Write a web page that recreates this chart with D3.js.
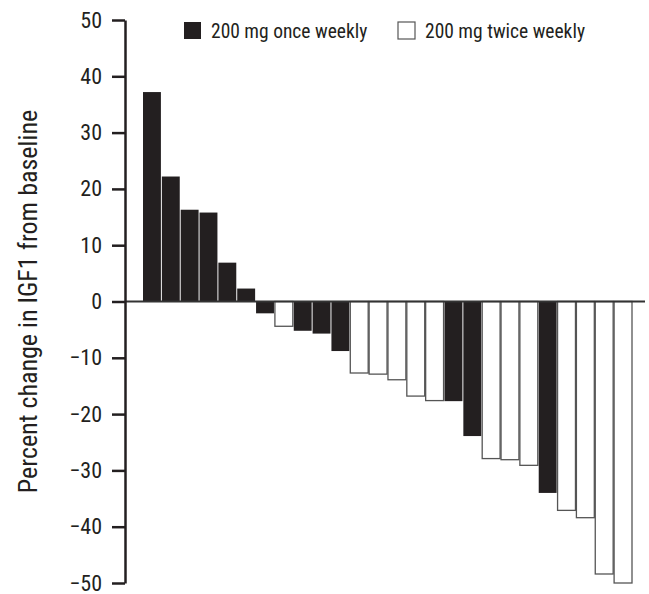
<!DOCTYPE html>
<html>
<head>
<meta charset="utf-8">
<script src="https://cdn.jsdelivr.net/npm/d3@7"></script>
<style>
  body { margin: 0; background: #fff; }
  svg text { font-family: "Liberation Sans Narrow", "Arial Narrow", "Roboto Condensed", sans-serif; fill: #231f20; }
</style>
</head>
<body>
<svg id="chart" width="649" height="594"></svg>
<script>
// Percent change in IGF1 per patient, sorted high to low
const patients = d3.range(1, 27).map(String);
const changes = [37.2, 22.2, 16.3, 15.8, 6.9, 2.3, -2.1, -4.4, -5.2, -5.7, -8.8, -12.7, -12.9, -13.9,
  -16.8, -17.6, -17.7, -23.9, -27.9, -28.1, -29.1, -34.0, -37.1, -38.4, -48.4, -50.0];
// 'once' = 200 mg once weekly, 'twice' = 200 mg twice weekly
const dosing = ['once', 'once', 'once', 'once', 'once', 'once', 'once', 'twice', 'once', 'once', 'once',
  'twice', 'twice', 'twice', 'twice', 'twice', 'once', 'once', 'twice', 'twice', 'twice', 'once',
  'twice', 'twice', 'twice', 'twice'];
const yTicks = [50, 40, 30, 20, 10, 0, -10, -20, -30, -40, -50];
const legendItems = [
  { key: 'once', label: '200 mg once weekly' },
  { key: 'twice', label: '200 mg twice weekly' }
];

const svg = d3.select('#chart');
const ink = '#231f20';

const y = d3.scaleLinear().domain([-50, 50]).range([583, 20]);
const x = d3.scaleBand().domain(patients).range([143, 632]).paddingInner(0.05);

// Bars
const data = patients.map((p, i) => ({ p, v: changes[i], dose: dosing[i] }));
svg.append('g').selectAll('rect').data(data).enter().append('rect')
  .attr('x', d => x(d.p))
  .attr('width', x.bandwidth())
  .attr('y', d => y(Math.max(0, d.v)))
  .attr('height', d => Math.abs(y(d.v) - y(0)))
  .attr('fill', d => d.dose === 'once' ? ink : '#fff')
  .attr('stroke', d => d.dose === 'once' ? 'none' : '#555')
  .attr('stroke-width', 1.3);

// Zero line
svg.append('line')
  .attr('x1', 125).attr('x2', 645)
  .attr('y1', y(0)).attr('y2', y(0))
  .attr('stroke', '#333').attr('stroke-width', 2);

// Y axis
const yAxis = svg.append('g')
  .attr('transform', 'translate(125,0)')
  .call(d3.axisLeft(y).tickValues(yTicks).tickSize(13).tickSizeOuter(0).tickPadding(10));
yAxis.select('.domain').attr('stroke', ink).attr('stroke-width', 2.5);
yAxis.selectAll('.tick line').attr('stroke', ink).attr('stroke-width', 2.5);
yAxis.selectAll('.tick text').style('font-size', '22px').attr('fill', ink);

// Y axis title
svg.append('text')
  .attr('transform', `translate(37,${y(0)}) rotate(-90)`)
  .attr('text-anchor', 'middle')
  .style('font-size', '26px')
  .text('Percent change in IGF1 from baseline');

// Legend
const legend = svg.append('g');
const legendX = [184, 398];
legendItems.forEach((item, i) => {
  const g = legend.append('g').attr('transform', `translate(${legendX[i]},22)`);
  g.append('rect').attr('width', 17).attr('height', 17)
    .attr('fill', item.key === 'once' ? ink : '#fff')
    .attr('stroke', item.key === 'once' ? 'none' : '#555')
    .attr('stroke-width', 1.2);
  g.append('text').attr('x', 27).attr('y', 15.5)
    .style('font-size', '19.5px')
    .text(item.label);
});
</script>
</body>
</html>
